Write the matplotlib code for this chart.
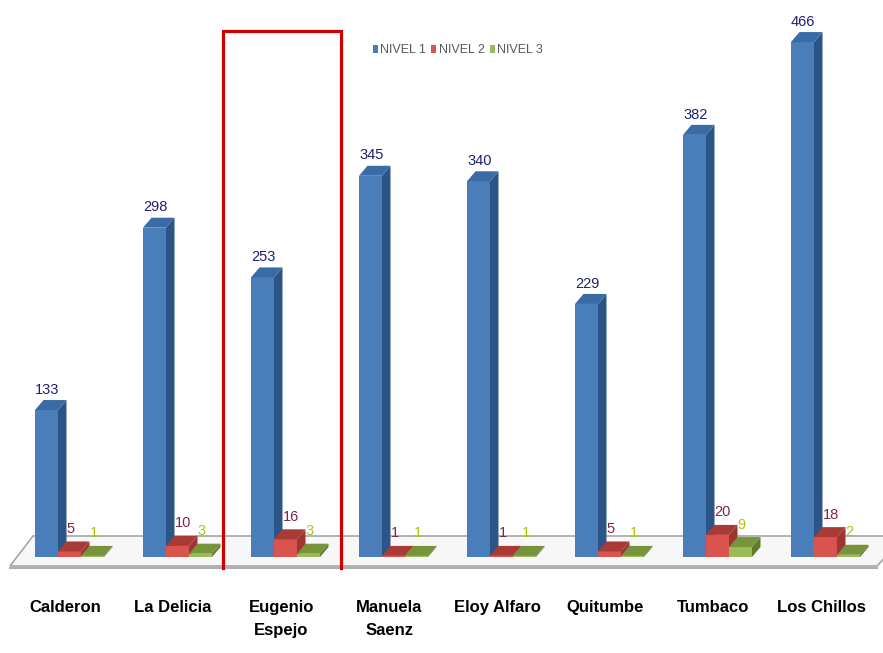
"""
3D-style grouped bar chart: NIVEL 1/2/3 per zona
"""

import matplotlib.pyplot as plt
from matplotlib.patches import Patch, Polygon
from matplotlib.lines import Line2D

categories = ['Calderon', 'La Delicia', 'Eugenio\nEspejo', 'Manuela\nSaenz',
              'Eloy Alfaro', 'Quitumbe', 'Tumbaco', 'Los Chillos']
nivel1 = [133, 298, 253, 345, 340, 229, 382, 466]
nivel2 = [5, 10, 16, 1, 1, 5, 20, 18]
nivel3 = [1, 3, 3, 1, 1, 1, 9, 2]
series_names = ['NIVEL 1', 'NIVEL 2', 'NIVEL 3']

# layout (pixels of the 883x653 image)
FIG_W, FIG_H = 883, 653
CAT_PX = 108.0      # px between groups
X0_PX = 69.5        # px of first group centre
V_PX = 1.105        # px per value unit
BASE_ROW = 557.0    # row of value 0
BAR_W = 23 / CAT_PX
DX = 8.5 / CAT_PX
DV = 10 / V_PX

FONT = ['Liberation Sans', 'DejaVu Sans']

# face colours: front, side, top
faces = [('#4A7EBB', '#2C5587', '#3B6BA5'),
         ('#D9534F', '#9E3532', '#A93B37'),
         ('#9BBB59', '#5F7A2C', '#77933C')]
label_colors = ['#1F1F70', '#7A2552', '#A9C41A']


def px2x(px):
    return (px - X0_PX) / CAT_PX


def row2v(row):
    return (BASE_ROW - row) / V_PX


fig = plt.figure(figsize=(FIG_W / 100, FIG_H / 100), dpi=100)
ax = fig.add_axes([0, 0, 1, 1])
ax.set_xlim(px2x(0), px2x(FIG_W))
ax.set_ylim(row2v(FIG_H), row2v(0))
ax.axis('off')

# floor
fl_front, fl_back = row2v(566), row2v(536)
floor = Polygon([(px2x(10), fl_front), (px2x(33), fl_back),
                 (px2x(905), fl_back), (px2x(877), fl_front)],
                closed=True, facecolor='#F7F7F7', edgecolor='#A6A6A6',
                lw=1.2, zorder=1)
ax.add_patch(floor)
ax.plot([px2x(10), px2x(877)], [row2v(568), row2v(568)],
        color='#B0B0B0', lw=1.5, zorder=1)

# bars
for s, vals in enumerate([nivel1, nivel2, nivel3]):
    front, side, top = faces[s]
    z = 3 + s * 3
    lefts = [i - 1.5 * BAR_W + s * BAR_W for i in range(len(vals))]
    ax.bar(lefts, vals, width=BAR_W, align='edge', color=front,
           lw=0, zorder=z)
    for xl, h in zip(lefts, vals):
        xr = xl + BAR_W
        ax.add_patch(Polygon([(xr, 0), (xr + DX, DV), (xr + DX, h + DV),
                              (xr, h)], closed=True, facecolor=side,
                             lw=0, zorder=z + 1))
        ax.add_patch(Polygon([(xl, h), (xl + DX, h + DV),
                              (xr + DX, h + DV), (xr, h)], closed=True,
                             facecolor=top, lw=0, zorder=z + 2))
        off = 0 if s == 0 else DX
        pad = 3 if s == 0 else 5
        ax.text(xl + off, h + DV + pad, str(h), ha='left', va='bottom',
                color=label_colors[s], fontsize=10.5, family=FONT,
                zorder=20)

# category labels
for i, name in enumerate(categories):
    ax.text(i - 0.04, row2v(600), name, ha='center', va='top',
            fontsize=12, fontweight='bold', family=FONT, color='black',
            linespacing=1.65)

# highlight box around Eugenio Espejo
xs = [223.5 / FIG_W, 223.5 / FIG_W, 341 / FIG_W, 341 / FIG_W]
ys = [1 - 568 / FIG_H, 1 - 30.5 / FIG_H, 1 - 30.5 / FIG_H, 1 - 568 / FIG_H]
fig.add_artist(Line2D(xs, ys, color='#CC0000', lw=2.3,
                      solid_joinstyle='miter'))

# legend
handles = [Patch(facecolor=faces[k][0], edgecolor='none')
           for k in range(3)]
leg = fig.legend(handles, series_names, loc='center', ncol=3,
                 bbox_to_anchor=(458 / FIG_W, 1 - 50 / FIG_H),
                 frameon=False, handlelength=0.4, handleheight=0.6,
                 handletextpad=0.2, columnspacing=0.4,
                 prop={'family': FONT, 'size': 9})
for t in leg.get_texts():
    t.set_color('#595959')

fig.savefig('out.png', dpi=100)
plt.close()
